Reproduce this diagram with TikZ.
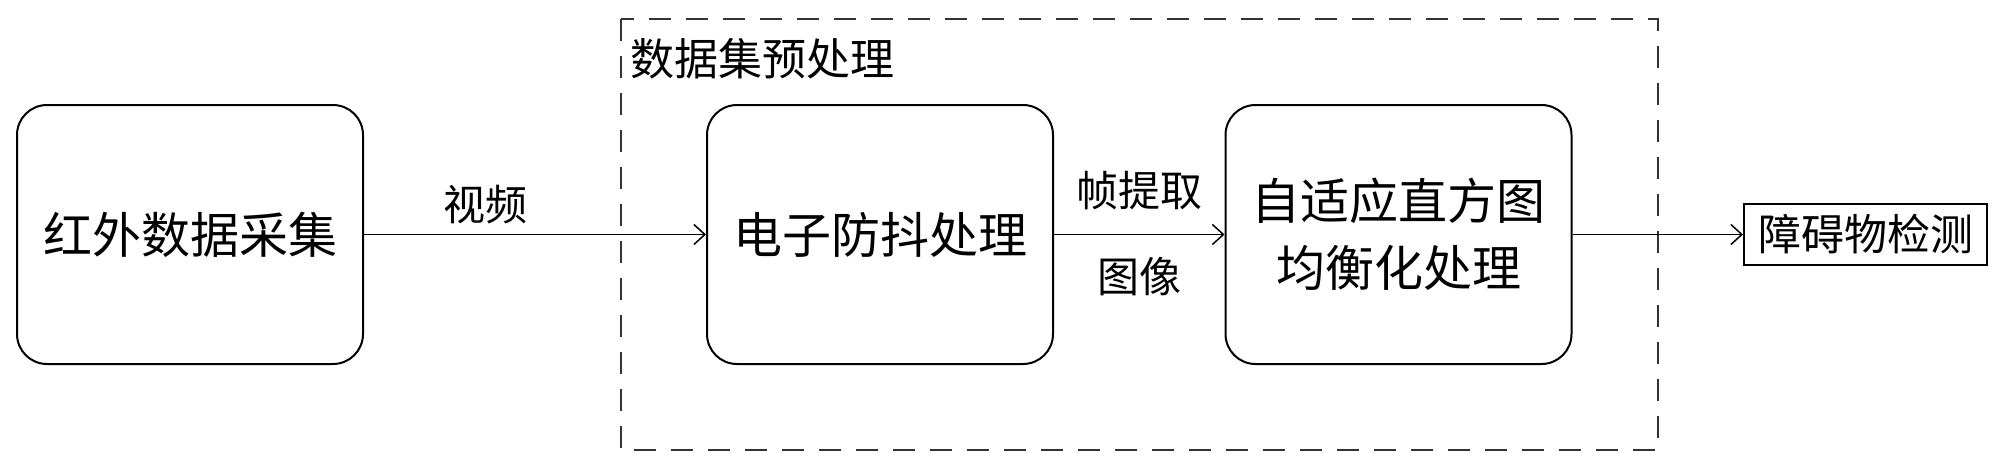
\documentclass[tikz,border=0pt]{standalone}
\usepackage{fontspec}
\setmainfont{Noto Sans CJK SC}
\usetikzlibrary{arrows.meta}
\begin{document}
\begin{tikzpicture}[x=1pt,y=-1pt,
 rbox/.style={draw, line width=2pt, rounded corners=30pt, minimum width=346pt, minimum height=259pt, inner sep=0pt, align=center, font=\fontsize{49}{67}\selectfont},
 plainbox/.style={draw, line width=2pt, minimum width=243pt, minimum height=61pt, inner sep=0pt, font=\fontsize{43}{50}\selectfont},
 arr/.style={-{Straight Barb[length=11pt,width=20pt]}, line width=1.5pt},
 lbl/.style={font=\fontsize{42}{50}\selectfont, inner sep=0pt},
 group/.style={dash pattern=on 22pt off 15pt, line width=2.5pt, draw=black!80}]
\useasboundingbox (0,0) rectangle (2000,469);
\draw[group] (621,19) rectangle (1658,450);
\node[lbl, font=\fontsize{44}{50}\selectfont] (title) at (762,59) {数据集预处理};
\node[rbox] (b1) at (190,234.5) {红外数据采集};
\node[rbox] (b2) at (880,234.5) {电子防抖处理};
\node[rbox] (b3) at (1398.5,234.5) {自适应直方图\\均衡化处理};
\node[plainbox] (b4) at (1865.5,234.5) {障碍物检测};
\draw[arr] (b1.east) -- (b2.west);
\draw[arr] (b2.east) -- (b3.west);
\draw[arr] (b3.east) -- (b4.west);
\node[lbl] (l1) at (485,205) {视频};
\node[lbl] (l2) at (1139,191) {帧提取};
\node[lbl] (l3) at (1139,277) {图像};
\end{tikzpicture}
\end{document}
